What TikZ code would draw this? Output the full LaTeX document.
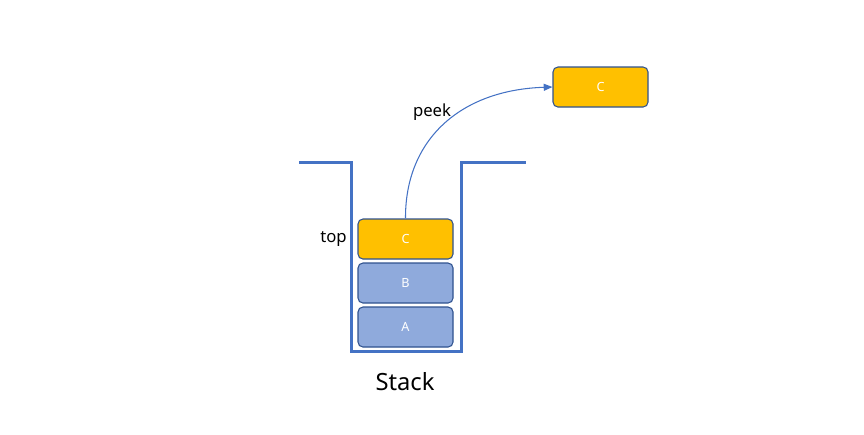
\documentclass[tikz,border=0pt]{standalone}
\usepackage{fontspec}
\setmainfont{Noto Sans}
\usetikzlibrary{arrows.meta}
\definecolor{wallblue}{HTML}{4472C4}
\definecolor{gold}{HTML}{FFC000}
\definecolor{lightblue}{HTML}{8FAADC}
\definecolor{edge}{HTML}{2F528F}
\tikzset{
  item/.style={draw=edge, line width=0.6pt, rounded corners=2.8pt, minimum width=95*0.02cm, minimum height=40*0.02cm, inner sep=0pt, text=white, font=\fontsize{7.2}{8}\selectfont},
  gold item/.style={item, fill=gold},
  blue item/.style={item, fill=lightblue},
  wall/.style={draw=wallblue, line width=1.7pt},
  label/.style={font=\fontsize{9.5}{11}\selectfont, inner sep=0pt}
}
\begin{document}
\begin{tikzpicture}[x=0.02cm,y=-0.02cm]
\useasboundingbox (0,0) rectangle (864,434);
\coordinate (w1) at (299,162);
\coordinate (w2) at (351,162);
\coordinate (w3) at (351,351);
\coordinate (w4) at (461,351);
\coordinate (w5) at (461,162);
\coordinate (w6) at (526,162);
\draw[wall] (w1) -- (w2) -- (w3) -- (w4) -- (w5) -- (w6);
\node[gold item] (c) at (405.5,239) {C};
\node[blue item] (b) at (405.5,283) {B};
\node[blue item] (a) at (405.5,327) {A};
\node[gold item] (c2) at (600.5,87) {C};
\node[label, anchor=east] (top) at (347,239) {top};
\node[label] (peek) at (432,112) {peek};
\node[font=\fontsize{13.5}{16}\selectfont, inner sep=0pt] (stack) at (405,382) {Stack};
\draw[wallblue, line width=0.6pt, -{Triangle[length=5pt,width=4pt]}] (c.north) .. controls (405,140) and (460,90) .. (c2.west);
\end{tikzpicture}
\end{document}
